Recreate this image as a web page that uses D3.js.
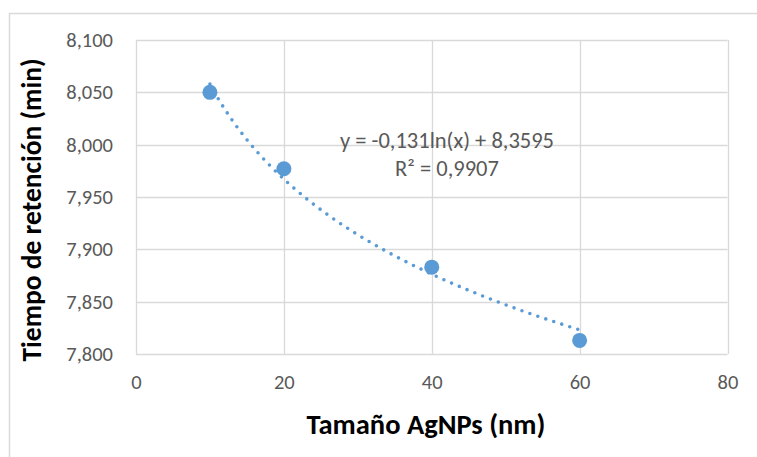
<!DOCTYPE html>
<html>
<head>
<meta charset="utf-8">
<script src="https://cdn.jsdelivr.net/npm/d3@7"></script>
<style>
  html, body { margin: 0; padding: 0; background: #fff; }
  svg { display: block; }
  text { font-family: Carlito, Lato, "Open Sans", sans-serif; }
</style>
</head>
<body>
<svg id="chart" width="757" height="457"></svg>
<script>
const sizes = [10, 20, 40, 60];
const retention = [8.050, 7.977, 7.883, 7.813];
const xTicks = [0, 20, 40, 60, 80];
const yTicks = [7.80, 7.85, 7.90, 7.95, 8.00, 8.05, 8.10];
const trendA = -0.131, trendB = 8.3595;
const equationLines = ["y = -0,131ln(x) + 8,3595", "R² = 0,9907"];
const xTitle = "Tamaño AgNPs (nm)";
const yTitle = "Tiempo de retención (min)";

const svg = d3.select("#chart");
const plot = {left: 136, right: 727.5, top: 40, bottom: 354};
const x = d3.scaleLinear().domain([0, 80]).range([plot.left, plot.right]);
const y = d3.scaleLinear().domain([7.8, 8.1]).range([plot.bottom, plot.top]);
const fmt = v => d3.format(",.3f")(v).replace(".", ",");

// outer chart border
svg.append("rect").attr("x", 9.5).attr("y", 13.5).attr("width", 800).attr("height", 500)
  .attr("fill", "none").attr("stroke", "#d9d9d9").attr("stroke-width", 1.5);

// gridlines
svg.append("g").selectAll("line").data(yTicks).join("line")
  .attr("x1", plot.left).attr("x2", plot.right)
  .attr("y1", d => Math.round(y(d)) + 0.5).attr("y2", d => Math.round(y(d)) + 0.5)
  .attr("stroke", "#d9d9d9").attr("stroke-width", 1.3);
svg.append("g").selectAll("line").data(xTicks).join("line")
  .attr("y1", plot.top).attr("y2", plot.bottom)
  .attr("x1", d => Math.round(x(d)) + 0.5).attr("x2", d => Math.round(x(d)) + 0.5)
  .attr("stroke", "#d9d9d9").attr("stroke-width", 1.3);

// axes (labels only)
const yAxis = d3.axisLeft(y).tickValues(yTicks).tickFormat(fmt).tickSize(0).tickPadding(23);
const gy = svg.append("g").attr("transform", `translate(${plot.left},0)`).call(yAxis);
gy.select(".domain").remove();
gy.selectAll("text").attr("fill", "#595959").style("font-size", "20.5px");

const xAxis = d3.axisBottom(x).tickValues(xTicks).tickFormat(d3.format("d")).tickSize(0).tickPadding(20);
const gx = svg.append("g").attr("transform", `translate(0,${plot.bottom})`).call(xAxis);
gx.select(".domain").remove();
gx.selectAll("text").attr("fill", "#595959").style("font-size", "20.5px");

// markers
const pts = sizes.map((s, i) => ({s, r: retention[i]}));
svg.append("g").selectAll("circle").data(pts).join("circle")
  .attr("cx", d => x(d.s)).attr("cy", d => y(d.r)).attr("r", 7.5)
  .attr("fill", "#5B9BD5");

// logarithmic trendline
const trendX = d3.range(10, 60.001, 0.5);
const line = d3.line().x(d => x(d)).y(d => y(trendA * Math.log(d) + trendB)).curve(d3.curveMonotoneX);
svg.append("path").datum(trendX).attr("d", line)
  .attr("fill", "none").attr("stroke", "#5B9BD5").attr("stroke-width", 3.6)
  .attr("stroke-linecap", "round").attr("stroke-dasharray", "0 8.4");

// equation
svg.append("g").selectAll("text").data(equationLines).join("text")
  .attr("x", 447).attr("y", (d, i) => 148 + i * 28)
  .attr("text-anchor", "middle").attr("fill", "#595959").style("font-size", "22.5px")
  .text(d => d);

// titles
svg.append("text").attr("x", 426).attr("y", 434).attr("text-anchor", "middle")
  .style("font-size", "28.5px").style("font-weight", "bold").attr("fill", "#000").text(xTitle);
svg.append("text").attr("transform", "translate(41,210) rotate(-90)").attr("text-anchor", "middle")
  .style("font-size", "27.5px").style("font-weight", "bold").attr("fill", "#000").text(yTitle);
</script>
</body>
</html>
